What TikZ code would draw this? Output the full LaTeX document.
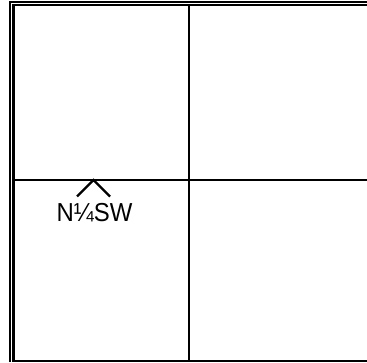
\documentclass[tikz,border=0pt]{standalone}
\usepackage{fontspec}
\setmainfont{Liberation Sans}
\usetikzlibrary{calc}
\begin{document}
\begin{tikzpicture}[x=1pt,y=1pt,
  thinline/.style={line width=1.1pt,black},
  thickline/.style={line width=2.8pt,black},
  divider/.style={line width=2.3pt,black},
  label/.style={font=\fontsize{26}{30}\selectfont,inner sep=0pt,anchor=base,xscale=0.92}]
\useasboundingbox (0,0) rectangle (367,362);
% outer thin frame
\draw[thinline] (10,0) -- (10,360) -- (367,360);
% inner thick frame
\draw[thickline] (13.5,0) -- (13.5,357) -- (367,357);
% bottom line
\draw[divider] (13.5,1.2) -- (367,1.2);
% dividers
\coordinate (top) at (189,357);
\coordinate (bot) at (189,0);
\coordinate (lft) at (13.5,182);
\coordinate (rgt) at (367,182);
\draw[divider] (top) -- (bot);
\draw[divider] (lft) -- (rgt);
% chevron
\coordinate (apex) at (93.5,182);
\draw[divider] ($(apex)+(-16.5,-16.5)$) -- (apex) -- ($(apex)+(16.5,-16.5)$);
\node[label] (lbl) at (94.5,140.5) {N¼SW};
\end{tikzpicture}
\end{document}
